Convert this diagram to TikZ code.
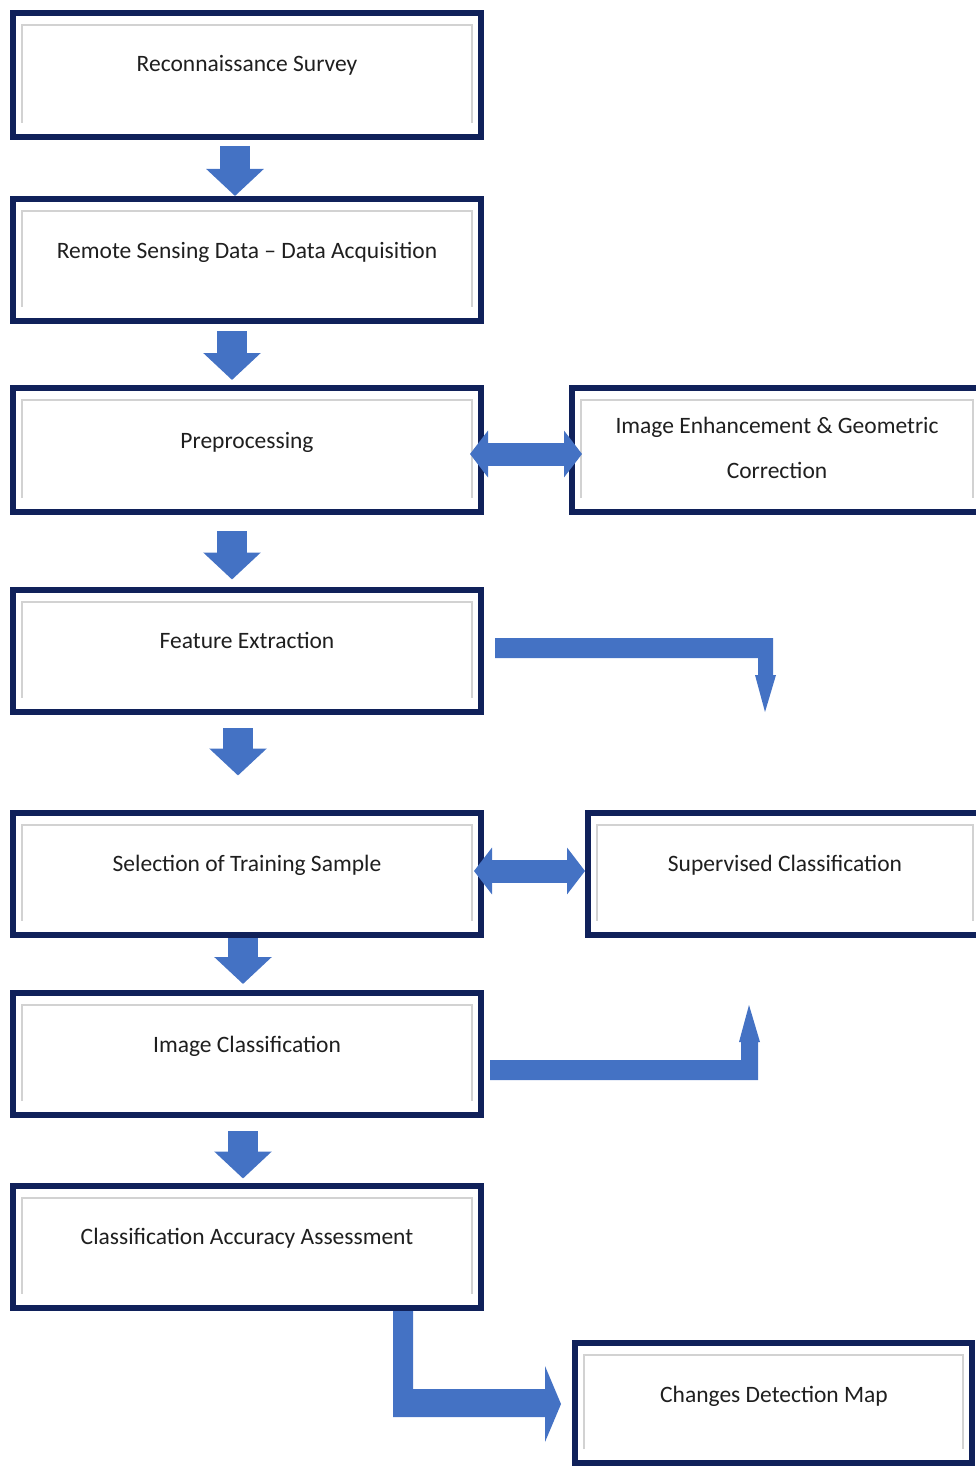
\documentclass[tikz,border=0pt]{standalone}
\usepackage{fontspec}
\setmainfont{Carlito}
\usetikzlibrary{arrows.meta,backgrounds}
\definecolor{navy}{HTML}{10215A}
\definecolor{innergray}{HTML}{D2D2D2}
\definecolor{blk}{HTML}{4472C4}
\begin{document}
\begin{tikzpicture}[x=1pt,y=-1pt,
  box/.style={draw=navy, line width=6pt, fill=white, minimum width=468pt,
    minimum height=122pt, inner sep=0pt,
    path picture={\draw[innergray, line width=2pt]
      ([shift={(9pt,14pt)}]path picture bounding box.south west) --
      ([shift={(9pt,-12pt)}]path picture bounding box.north west) --
      ([shift={(-9pt,-12pt)}]path picture bounding box.north east) --
      ([shift={(-9pt,14pt)}]path picture bounding box.south east);}},
  lbl/.style={anchor=base, inner sep=0pt, font=\fontsize{23.5}{28}\selectfont, text=black!88},
  dn/.style={draw=blk, line width=30pt, -{Triangle[width=56pt,length=27pt]}},
  dbl/.style={draw=blk, line width=23pt,
    {Triangle[width=46pt,length=18pt]}-{Triangle[width=46pt,length=18pt]}},
  bent/.style={fill=blk}]
\useasboundingbox (0,0) rectangle (976,1466);
% boxes
\node[box, minimum height=124pt] (b1) at (247,75) {};
\node[box] (b2) at (247,260) {};
\node[box, minimum height=124pt] (b3) at (247,450) {};
\node[box] (b4) at (247,650.5) {};
\node[box] (b5) at (247,873.5) {};
\node[box] (b6) at (247,1054) {};
\node[box] (b7) at (247,1246.5) {};
\node[box, minimum width=410pt, minimum height=124pt] (r1) at (777,450) {};
\node[box, minimum width=394pt] (r2) at (785,873.5) {};
\node[box, minimum width=397pt, minimum height=120pt] (r3) at (773.5,1403) {};
% labels
\node[lbl] (t1) at (247,72) {Reconnaissance Survey};
\node[lbl] (t2) at (247,258) {Remote Sensing Data – Data Acquisition};
\node[lbl] (t3) at (247,448) {Preprocessing};
\node[lbl] (t4) at (247,648) {Feature Extraction};
\node[lbl] (t5) at (247,871) {Selection of Training Sample};
\node[lbl] (t6) at (247,1052) {Image Classification};
\node[lbl] (t7) at (247,1244) {Classification Accuracy Assessment};
\node[lbl] (tr1) at (777,433) {\fontsize{23.5}{45}\selectfont\begin{tabular}[t]{@{}c@{}}Image Enhancement \& Geometric\\ Correction\end{tabular}};
\node[lbl] (tr2) at (785,871) {Supervised Classification};
\node[lbl] (tr3) at (774,1402) {Changes Detection Map};
% arrow columns
\coordinate (x1) at (235,0);
\coordinate (x2) at (232,0);
\coordinate (x3) at (232,0);
\coordinate (x4) at (238,0);
\coordinate (x5) at (243,0);
\coordinate (x6) at (243,0);
\begin{pgfonlayer}{background}
\draw[dn] ([yshift=-6pt]b1.south -| x1) -- (b2.north -| x1);
\draw[dn] ([yshift=-7pt]b2.south -| x2) -- ([yshift=5pt]b3.north -| x2);
\draw[dn] ([yshift=-16pt]b3.south -| x3) -- ([yshift=7pt]b4.north -| x3);
\draw[dn] ([yshift=-13.5pt]b4.south -| x4) -- ([yshift=34pt]b5.north -| x4);
\draw[dn] (b5.south -| x5) -- ([yshift=6pt]b6.north -| x5);
\draw[dn] ([yshift=-13pt]b6.south -| x6) -- ([yshift=4pt]b7.north -| x6);
\fill[bent] ([shift={(11pt,12.5pt)}]b4.east) -- ++(278,0) -- ++(0,37) -- ++(3,0)
  -- ++(-11,37) -- ++(-10,-37) -- ++(3,0) -- ++(0,-17) -- ++(-263,0) -- cycle;
\fill[bent] ([shift={(6pt,-26pt)}]b6.east) -- ++(268,0) -- ++(0,-38) -- ++(2,0)
  -- ++(-11,-37) -- ++(-10,37) -- ++(2,0) -- ++(0,18) -- ++(-251,0) -- cycle;
\fill[bent] ([xshift=146pt]b7.south) -- ++(20,0) -- ++(0,78.5) -- ++(132,0)
  -- ++(0,-23) -- ++(16,38) -- ++(-16,38) -- ++(0,-25) -- ++(-152,0) -- cycle;
\end{pgfonlayer}
% double arrows
\draw[dbl] ([shift={(-14pt,-4pt)}]b3.east) -- ([shift={(13pt,-4pt)}]r1.west);
\draw[dbl] ([shift={(-10pt,2.5pt)}]b5.east) -- ([shift={(0pt,2.5pt)}]r2.west);
\end{tikzpicture}
\end{document}
